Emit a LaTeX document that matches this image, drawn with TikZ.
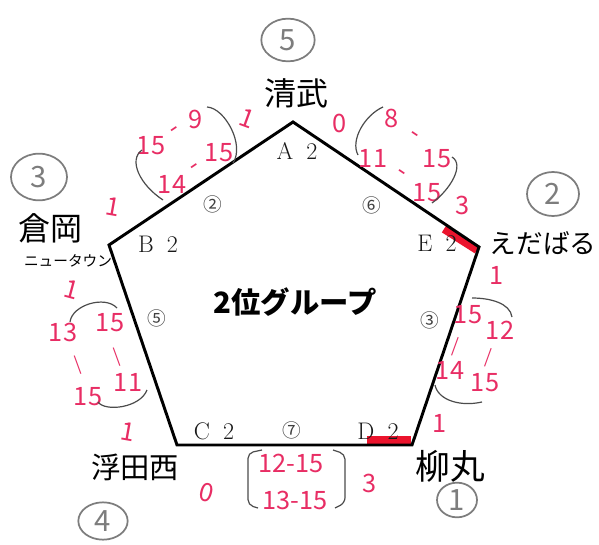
\documentclass[tikz,border=0pt]{standalone}
\usepackage{fontspec}
\newfontfamily\jp{Noto Sans CJK JP}
\usetikzlibrary{positioning,shapes.geometric}
\definecolor{pen}{RGB}{232,45,100}
\definecolor{pencil}{RGB}{125,125,125}
\definecolor{marker}{RGB}{235,20,45}

\begin{document}
\begin{tikzpicture}[
    x=0.75pt, y=-0.75pt,
    side/.style={line width=2.2pt, line join=miter},
    vlabel/.style={font=\fontsize{18}{20}\selectfont, text=black!90},
    slot/.style={font=\jp\fontsize{14}{16}\selectfont, text=black!75},
    team/.style={font=\jp\fontsize{24}{26}\selectfont, inner sep=0pt},
    rank/.style={ellipse, draw=pencil, line width=1.3pt, text=pencil, inner sep=0pt, font=\jp\fontsize{22}{22}\selectfont},
    score/.style={text=pen, font=\jp\fontsize{19}{21}\selectfont, inner sep=0pt},
    penstroke/.style={text=pen, font=\jp\fontsize{13}{15}\selectfont, inner sep=0pt},
    brk/.style={draw=black!70, line width=0.9pt},
    hilite/.style={draw=marker, line width=6pt},
]
  \useasboundingbox[fill=white] (0,0) rectangle (599,545);

  % pentagon
  \coordinate (A) at (293,122);
  \coordinate (B) at (109,245);
  \coordinate (C) at (177,445);
  \coordinate (D) at (412,445);
  \coordinate (E) at (479,247);
  \draw[hilite] (444,229) -- (477,250);
  \fill[marker] (367,436) rectangle (411,444);
  \draw[side] (A) -- (E) -- (D) -- (C) -- (B) -- cycle;

  \node[vlabel] (la) at (297,151) {A\hspace{0.55em}2};
  \node[vlabel] (lb) at (158,244) {B\hspace{0.55em}2};
  \node[vlabel] (lc) at (214,431) {C\hspace{0.55em}2};
  \node[vlabel] (ld) at (378,431) {D\hspace{0.55em}2};
  \node[vlabel] (le) at (437,243) {E\hspace{0.55em}2};

  \node[slot] (s2) at (213,204) {②};
  \node[slot] (s6) at (372,205) {⑥};
  \node[slot] (s5) at (157,318) {⑤};
  \node[slot] (s3) at (430,320) {③};
  \node[slot] (s7) at (292,430) {⑦};

  \node[font=\jp\bfseries\fontsize{22}{24}\selectfont] (title) at (295,302) {2位グループ};

  % teams and ranks
  \node[team] (kiyotake) at (296,93) {清武};
  \node[rank, minimum width=40pt, minimum height=32pt] (r5) at (288,40) {5};
  \node[team] (kuraoka) at (50,228) {倉岡};
  \node[team, font=\jp\fontsize{11}{12}\selectfont] (newtown) at (68,261) {ニュータウン};
  \node[rank, minimum width=42pt, minimum height=35pt] (r3) at (39,177) {3};
  \node[team, font=\jp\fontsize{20}{22}\selectfont] (edabaru) at (543,243) {えだばる};
  \node[rank, minimum width=39pt, minimum height=33pt] (r2) at (553,194) {2};
  \node[team, font=\jp\fontsize{22}{24}\selectfont] (ukita) at (135,467) {浮田西};
  \node[rank, minimum width=37pt, minimum height=28pt] (r4) at (103,521) {4};
  \node[team, font=\jp\fontsize{26}{28}\selectfont] (yanagi) at (450,466) {柳丸};
  \node[rank, minimum width=30pt, minimum height=26pt] (r1) at (457,500) {1};

  % A-B
  \node[score, rotate=-20] (ab0) at (247,118) {1};
  \node[score] (ab1) at (151,146) {15};
  \node[score, rotate=34] (ab2) at (176,132) {-};
  \node[score] (ab3) at (196,119) {9};
  \node[score] (ab4) at (172,184) {14};
  \node[score, rotate=34] (ab5) at (196,169) {-};
  \node[score] (ab6) at (219,153) {15};
  \node[score, rotate=-10] (ab7) at (113,207) {1};
  \draw[brk] (142,150) .. controls (128,160) and (140,185) .. (163,200);
  \draw[brk] (207,107) .. controls (225,108) and (245,145) .. (233,163);

  % A-E
  \node[score] (ae0) at (340,123) {0};
  \node[score] (ae1) at (392,118) {8};
  \node[score, rotate=-34] (ae2) at (413,137) {-};
  \node[score] (ae3) at (437,159) {15};
  \node[score] (ae4) at (373,158) {11};
  \node[score, rotate=-34] (ae5) at (400,175) {-};
  \node[score] (ae6) at (427,193) {15};
  \node[score] (ae7) at (463,205) {3};
  \draw[brk] (383,107) .. controls (365,115) and (350,140) .. (358,155);
  \draw[brk] (452,157) .. controls (465,165) and (450,190) .. (432,203);

  % B-C
  \node[score, rotate=-15] (bc0) at (72,290) {1};
  \node[score] (bc1) at (63,332) {13};
  \node[penstroke, rotate=20] (bc2) at (78,365) {|};
  \node[score] (bc3) at (88,397) {15};
  \node[score] (bc4) at (110,323) {15};
  \node[penstroke, rotate=20] (bc5) at (117,357) {|};
  \node[score] (bc6) at (128,382) {11};
  \node[score, rotate=-10] (bc7) at (128,432) {1};
  \draw[brk] (70,322) .. controls (72,305) and (105,295) .. (117,308);
  \draw[brk] (98,402) .. controls (105,412) and (140,408) .. (147,390);

  % C-D
  \node[score, rotate=-15] (cd0) at (207,493) {0};
  \node[score] (cd1) at (291,463) {12-15};
  \node[score] (cd2) at (295,500) {13-15};
  \node[score] (cd3) at (370,483) {3};
  \draw[brk, rounded corners=4pt] (262,450) -- (248,453) -- (248,505) -- (258,508);
  \draw[brk, rounded corners=4pt] (333,450) -- (345,454) -- (345,503) -- (335,508);

  % E-D
  \node[score] (ed0) at (497,275) {1};
  \node[score] (ed1) at (468,315) {15};
  \node[penstroke, rotate=-20] (ed2) at (455,347) {|};
  \node[score] (ed3) at (450,370) {14};
  \node[score] (ed4) at (500,330) {12};
  \node[penstroke, rotate=-20] (ed5) at (488,358) {|};
  \node[score] (ed6) at (485,383) {15};
  \node[score] (ed7) at (440,423) {1};
  \draw[brk] (472,298) .. controls (490,298) and (510,303) .. (512,317);
  \draw[brk] (435,385) .. controls (438,400) and (460,407) .. (482,402);
\end{tikzpicture}
\end{document}
